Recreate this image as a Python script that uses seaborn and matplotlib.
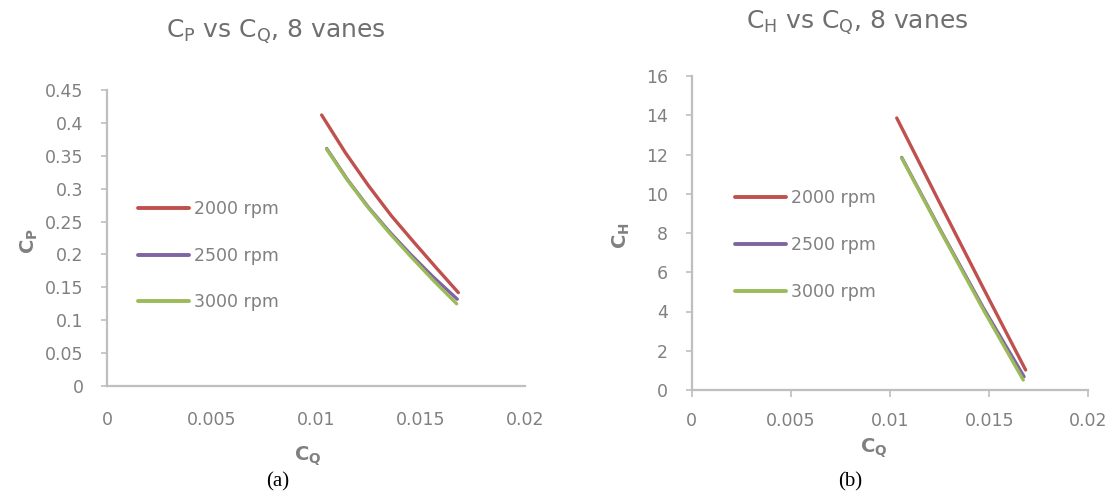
import matplotlib
matplotlib.use("Agg")
import matplotlib.pyplot as plt
import seaborn as sns
import pandas as pd
from matplotlib.ticker import FixedLocator, FixedFormatter

# ---------------- data ----------------
series_names = ["2000 rpm", "2500 rpm", "3000 rpm"]
series_colors = ["#C0504D", "#8064A2", "#9BBB59"]

# (a) Cp vs CQ
cp_x_2000 = [0.01027, 0.0114, 0.0125, 0.0136, 0.0147, 0.0158, 0.01681]
cp_y_2000 = [0.412, 0.355, 0.305, 0.259, 0.218, 0.178, 0.142]
cp_x_2500 = [0.01051, 0.0115, 0.0125, 0.0135, 0.0145, 0.0156, 0.01676]
cp_y_2500 = [0.361, 0.314, 0.272, 0.235, 0.201, 0.166, 0.132]
cp_x_3000 = [0.01051, 0.0115, 0.0125, 0.0135, 0.0145, 0.0156, 0.01673]
cp_y_3000 = [0.360, 0.313, 0.271, 0.233, 0.198, 0.161, 0.125]

# (b) CH vs CQ
ch_x_2000 = [0.01034, 0.0125, 0.0147, 0.01684]
ch_y_2000 = [13.86, 9.55, 5.2, 1.02]
ch_x_2500 = [0.01059, 0.0126, 0.0147, 0.01676]
ch_y_2500 = [11.85, 8.05, 4.2, 0.68]
ch_x_3000 = [0.01059, 0.0126, 0.0147, 0.01672]
ch_y_3000 = [11.82, 8.0, 4.1, 0.51]

x_ticks = [0, 0.005, 0.01, 0.015, 0.02]
x_tick_labels = ["0", "0.005", "0.01", "0.015", "0.02"]
cp_ticks = [0, 0.05, 0.1, 0.15, 0.2, 0.25, 0.3, 0.35, 0.4, 0.45]
cp_tick_labels = ["0", "0.05", "0.1", "0.15", "0.2", "0.25", "0.3", "0.35", "0.4", "0.45"]
ch_ticks = [0, 2, 4, 6, 8, 10, 12, 14, 16]
ch_tick_labels = ["0", "2", "4", "6", "8", "10", "12", "14", "16"]


def long_df(xs, ys):
    rows = []
    for name, x, y in zip(series_names, xs, ys):
        for xi, yi in zip(x, y):
            rows.append({"CQ": xi, "val": yi, "series": name})
    return pd.DataFrame(rows)


df_cp = long_df([cp_x_2000, cp_x_2500, cp_x_3000], [cp_y_2000, cp_y_2500, cp_y_3000])
df_ch = long_df([ch_x_2000, ch_x_2500, ch_x_3000], [ch_y_2000, ch_y_2500, ch_y_3000])

# ---------------- style ----------------
sns.set_theme(style="white")
plt.rcParams["font.family"] = ["DejaVu Sans"]
plt.rcParams["mathtext.fontset"] = "dejavusans"

W, H = 1112, 498
fig = plt.figure(figsize=(W / 100, H / 100), dpi=100)
fig.patch.set_facecolor("white")

AX_COLOR = "#BFBFBF"
TXT_COLOR = "#808080"
palette = dict(zip(series_names, series_colors))


def px_axes(x0, y0, x1, y1):
    # pixel box (top-left origin) -> figure fraction
    return fig.add_axes([x0 / W, 1 - y1 / H, (x1 - x0) / W, (y1 - y0) / H])


def style_axes(ax, yt, ytl, xticklen, xpad, ylim):
    ax.set_xlim(0, 0.02)
    ax.set_ylim(*ylim)
    ax.xaxis.set_major_locator(FixedLocator(x_ticks))
    ax.xaxis.set_major_formatter(FixedFormatter(x_tick_labels))
    ax.yaxis.set_major_locator(FixedLocator(yt))
    ax.yaxis.set_major_formatter(FixedFormatter(ytl))
    for s in ["top", "right"]:
        ax.spines[s].set_visible(False)
    for s in ["left", "bottom"]:
        ax.spines[s].set_color(AX_COLOR)
        ax.spines[s].set_linewidth(1.6)
    ax.tick_params(axis="y", direction="out", length=4, width=1.2, color=AX_COLOR,
                   labelsize=12.5, labelcolor=TXT_COLOR, pad=13, left=True)
    ax.tick_params(axis="x", direction="out", length=xticklen, width=1.2, color=AX_COLOR,
                   labelsize=12.5, labelcolor=TXT_COLOR, pad=xpad, bottom=True)
    ax.grid(False)
    ax.set_facecolor("white")


def style_legend(leg):
    for t in leg.get_texts():
        t.set_color(TXT_COLOR)
    for l in leg.get_lines():
        l.set_linewidth(2.8)


# ---------------- (a) ----------------
ax1 = px_axes(107, 90, 525, 386)
sns.lineplot(data=df_cp, x="CQ", y="val", hue="series", palette=palette,
             hue_order=series_names, linewidth=2.4, ax=ax1, sort=True, estimator=None)
style_axes(ax1, cp_ticks, cp_tick_labels, 0, 18, (0, 0.45))
ax1.set_xlabel(r"$\mathbf{C_\mathbf{Q}}$", fontsize=14, color=TXT_COLOR)
ax1.set_ylabel(r"$\mathbf{C_\mathbf{P}}$", fontsize=14, color=TXT_COLOR)
ax1.xaxis.set_label_coords(0.48, -0.2)
ax1.yaxis.set_label_coords(-0.16, 0.49)
leg1 = ax1.legend(loc="center left", bbox_to_anchor=(0.075, 0.44), frameon=False,
                  fontsize=12.5, handlelength=2.9, handletextpad=0.3, labelspacing=1.65,
                  borderpad=0, borderaxespad=0)
style_legend(leg1)

# ---------------- (b) ----------------
ax2 = px_axes(691.7, 76, 1088.3, 390)
sns.lineplot(data=df_ch, x="CQ", y="val", hue="series", palette=palette,
             hue_order=series_names, linewidth=2.4, ax=ax2, sort=True, estimator=None)
style_axes(ax2, ch_ticks, ch_tick_labels, 5, 11, (0, 16))
ax2.set_xlabel(r"$\mathbf{C_\mathbf{Q}}$", fontsize=14, color=TXT_COLOR)
ax2.set_ylabel(r"$\mathbf{C_\mathbf{H}}$", fontsize=14, color=TXT_COLOR)
ax2.xaxis.set_label_coords(0.46, -0.15)
ax2.yaxis.set_label_coords(-0.15, 0.49)
leg2 = ax2.legend(loc="center left", bbox_to_anchor=(0.11, 0.462), frameon=False,
                  fontsize=12.5, handlelength=2.9, handletextpad=0.3, labelspacing=1.65,
                  borderpad=0, borderaxespad=0)
style_legend(leg2)

# ---------------- titles & panel labels ----------------
fig.text(276 / W, 1 - 32 / H, r"C$_\mathregular{P}$ vs C$_\mathregular{Q}$, 8 vanes",
         ha="center", va="center", fontsize=18, color="#6F6F6F")
fig.text(857 / W, 1 - 23 / H, r"C$_\mathregular{H}$ vs C$_\mathregular{Q}$, 8 vanes",
         ha="center", va="center", fontsize=18, color="#6F6F6F")
fig.text(278 / W, 1 - 482 / H, "(a)", ha="center", va="center", fontsize=15,
         family="Liberation Serif", color="black")
fig.text(850 / W, 1 - 482 / H, "(b)", ha="center", va="center", fontsize=15,
         family="Liberation Serif", color="black")

fig.savefig("out.png", dpi=100, facecolor="white")
